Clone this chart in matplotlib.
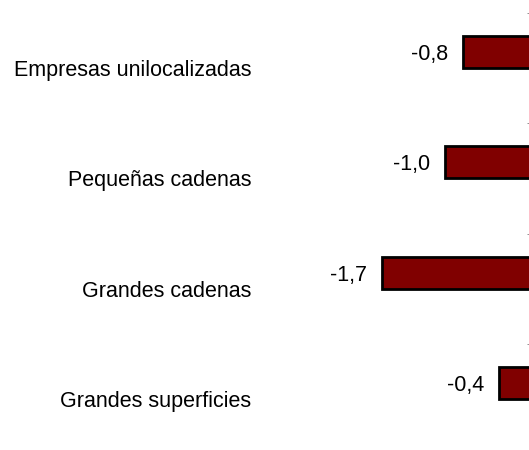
import numpy as np
import matplotlib
matplotlib.use("Agg")
import matplotlib.pyplot as plt

categories = ["Empresas unilocalizadas", "Pequeñas cadenas",
              "Grandes cadenas", "Grandes superficies"]
values = [-0.8, -1.0, -1.7, -0.4]
value_labels = ["-0,8", "-1,0", "-1,7", "-0,4"]

plt.rcParams['font.family'] = ['Liberation Sans', 'DejaVu Sans']

fig = plt.figure(figsize=(5.29, 4.5), dpi=100)
# plot area runs past the right/bottom edge, as in the original crop
ax = fig.add_axes([265 / 529, -4 / 450, 270 / 529, 441 / 450])

y = np.arange(len(categories))
bar_h = 0.29
ax.barh(y - 0.145, values, height=bar_h, color="#800000",
        edgecolor="black", linewidth=2)

for yi, v, lab in zip(y, values, value_labels):
    ax.annotate(lab, (v, yi - 0.145), xytext=(-15, 0),
                textcoords="offset pixels", ha="right",
                va="center_baseline", fontsize=15.5)

ax.set_xlim(-3, 0)
ax.set_ylim(3.5, -0.5)

for s in ["top", "bottom", "left"]:
    ax.spines[s].set_visible(False)
ax.spines["right"].set_color("#808080")

ax.set_xticks([])
ax.set_yticks(y)
ax.set_yticklabels(categories, fontsize=15.5)
ax.tick_params(axis="y", which="major", length=0, pad=10)
ax.set_yticks(np.arange(-0.5, 4.0, 1.0), minor=True)
ax.tick_params(axis="y", which="minor", left=False, right=True,
               direction="in", length=6, color="#808080")

fig.savefig("out.png", dpi=100)
